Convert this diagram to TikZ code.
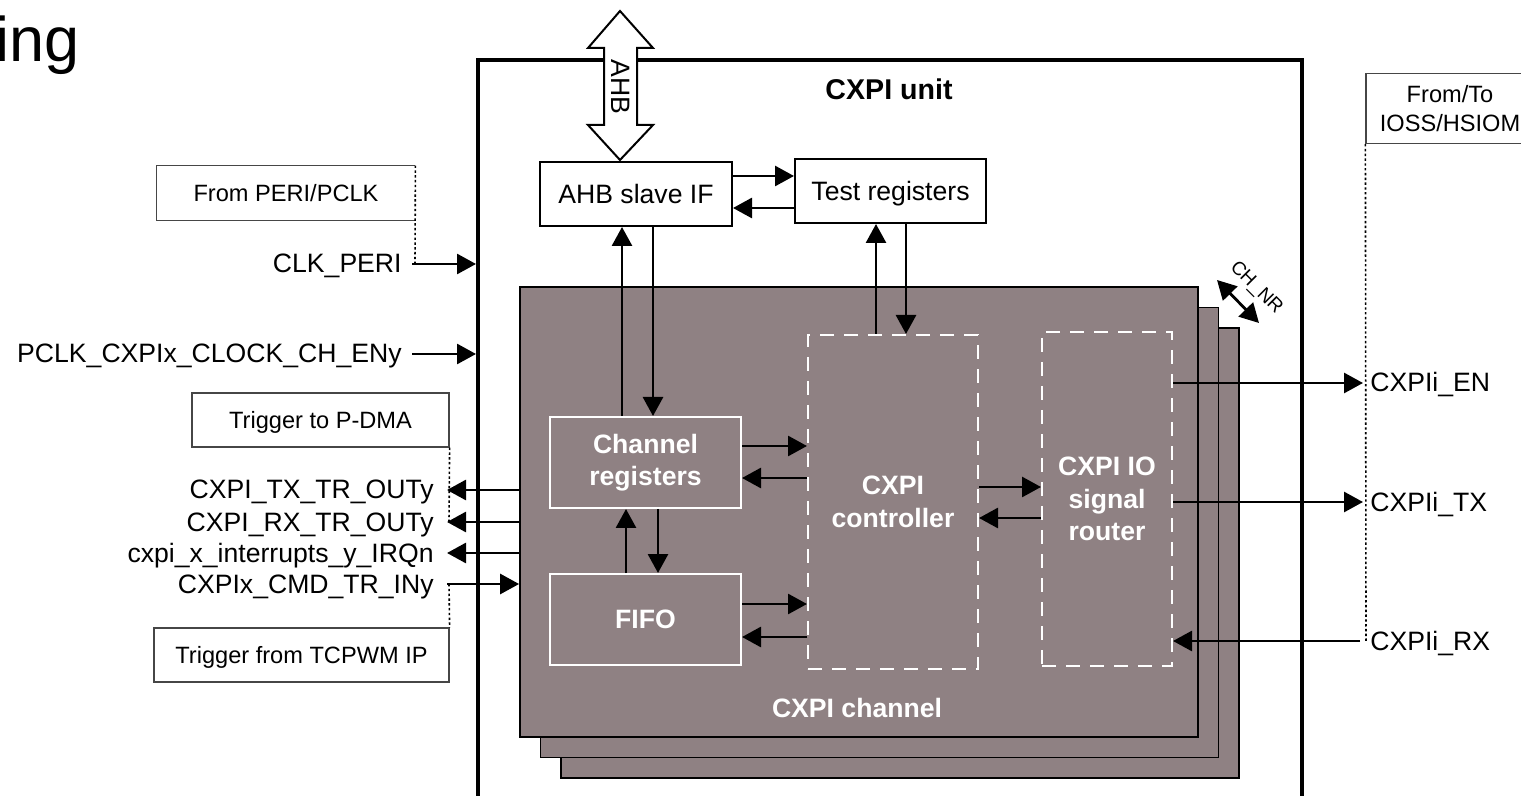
\documentclass[tikz,border=0pt]{standalone}
\usepackage{fontspec}
\setmainfont{Liberation Sans}
\usetikzlibrary{arrows.meta}
\definecolor{plate}{RGB}{143,129,131}
\definecolor{tagline}{RGB}{70,70,70}

\begin{document}
\begin{tikzpicture}[x=0.5pt,y=-0.5pt,
  sig/.style={font=\fontsize{13.3}{16}\selectfont, inner sep=0pt},
  tagtxt/.style={font=\fontsize{11.8}{14.5}\selectfont, inner sep=0pt},
  tagbox/.style={tagtxt, draw=tagline, line width=0.6pt, minimum height=27pt,
    text height=8.5pt, text depth=0pt},
  blk/.style={draw, line width=1pt, fill=white, inner sep=0pt,
    font=\fontsize{13.3}{16}\selectfont, text height=9.5pt, text depth=0pt},
  wblk/.style={draw=white, line width=1pt, inner sep=0pt, text=white,
    font=\bfseries\fontsize{13.3}{16.3}\selectfont, align=center},
  dblk/.style={wblk, dash pattern=on 7pt off 5pt},
  plt/.style={draw, line width=0.9pt, fill=plate, inner sep=0pt,
    minimum width=339pt, minimum height=225pt},
  tip/.tip={Triangle[length=9.5pt,width=10pt]},
  wire/.style={line width=1.4pt, -tip},
  tapline/.style={line width=0.8pt, dash pattern=on 1.2pt off 1.2pt}
]
\useasboundingbox (0,0) rectangle (1521,796);
\clip (0,0) rectangle (1521,796);

% title fragment
\node[anchor=base west, inner sep=0pt, font=\fontsize{31.5}{34}\selectfont] (ttl) at (-5,62) {ing};

% CXPI unit frame
\node[draw, line width=2pt, inner sep=0pt, minimum width=412pt, minimum height=380pt] (unit) at (890,440) {};
\node[inner sep=0pt, font=\bfseries\fontsize{14.3}{16}\selectfont] (unitlbl) at (889,89) {CXPI unit};

% stacked channel plates
\node[plt] (p3) at (900,553) {};
\node[plt] (p2) at (879.5,532.5) {};
\node[plt] (p1) at (859,512) {};
\node[inner sep=0pt, text=white, font=\bfseries\fontsize{13.3}{16}\selectfont] (chlbl) at (857,708) {CXPI channel};

% CH_NR marker
\coordinate (chA) at (1217,280);
\coordinate (chB) at (1259,323);
\draw[line width=1.4pt, tip-tip] (chA) -- (chB);
\node[inner sep=0pt, rotate=-45, font=\fontsize{9.5}{11}\selectfont] (chnr) at (1256,288) {CH\_NR};

% AHB bus
\draw[line width=1pt, fill=white] (620,11) -- (653,48) -- (637,48) -- (637,125) -- (653,125)
  -- (620,160) -- (588,125) -- (604,125) -- (604,48) -- (588,48) -- cycle;
\node[sig, rotate=-90] (ahblbl) at (621,87) {AHB};

% blocks
\node[blk, minimum width=96pt, minimum height=32pt] (ahb) at (636,194) {AHB slave IF};
\node[blk, minimum width=95.5pt, minimum height=32pt] (test) at (890.5,191) {Test registers};
\node[wblk, minimum width=95.5pt, minimum height=45.5pt] (chreg) at (645.5,462.5) {Channel\\registers};
\node[wblk, minimum width=95.5pt, minimum height=45.5pt] (fifo) at (645.5,619.5) {FIFO};
\node[dblk, minimum width=85pt, minimum height=167pt] (ctrl) at (893,502) {CXPI\\controller};
\node[dblk, minimum width=65pt, minimum height=167pt] (router) at (1107,499) {CXPI IO\\signal\\router};

% internal connections
\draw[wire] (ahb.east |- 0,176) -- (test.west |- 0,176);
\draw[wire] (test.west |- 0,208) -- (ahb.east |- 0,208);
\draw[wire] (chreg.north -| 622,0) -- (ahb.south -| 622,0);
\draw[wire] (ahb.south -| 653,0) -- (chreg.north -| 653,0);
\draw[wire] (ctrl.north -| 876,0) -- (test.south -| 876,0);
\draw[wire] (test.south -| 906,0) -- (ctrl.north -| 906,0);
\draw[wire] (chreg.east |- 0,446) -- (ctrl.west |- 0,446);
\draw[wire] (ctrl.west |- 0,478) -- (chreg.east |- 0,478);
\draw[wire] (fifo.east |- 0,604) -- (ctrl.west |- 0,604);
\draw[wire] (ctrl.west |- 0,637) -- (fifo.east |- 0,637);
\draw[wire] (fifo.north -| 626,0) -- (chreg.south -| 626,0);
\draw[wire] (chreg.south -| 658,0) -- (fifo.north -| 658,0);
\draw[wire] (ctrl.east |- 0,487) -- (router.west |- 0,487);
\draw[wire] (router.west |- 0,518) -- (ctrl.east |- 0,518);

% IOSS/HSIOM side
\node[tagtxt, align=center, draw=tagline, line width=0.6pt, minimum width=84pt, minimum height=35pt] (iobox) at (1450,108.5) {From/To\\IOSS/HSIOM};
\coordinate (busbot) at (1366,643);
\draw[tapline] (iobox.south west) -- (busbot);
\node[sig, anchor=base west] (en) at (1370,392) {CXPIi\_EN};
\node[sig, anchor=base west] (tx) at (1370,511) {CXPIi\_TX};
\node[sig, anchor=base west] (rx) at (1370,650) {CXPIi\_RX};
\draw[wire, shorten >=3.5pt] (router.east |- 0,383) -- (en.west |- 0,383);
\draw[wire, shorten >=3.5pt] (router.east |- 0,502) -- (tx.west |- 0,502);
\draw[wire, shorten <=5pt] (rx.west |- 0,641) -- (router.east |- 0,641);

% clock inputs
\node[tagtxt, minimum width=129pt, minimum height=27pt, text height=8.5pt, text depth=0pt] (fperi) at (286,193) {From PERI/PCLK};
\draw[draw=tagline, line width=0.6pt] (fperi.north east) -- (fperi.north west) -- (fperi.south west) -- (fperi.south east);
\coordinate (clktap) at (415,264);
\draw[tapline] (fperi.north east) -- (clktap);
\node[sig, anchor=base east] (clk) at (402,273) {CLK\_PERI};
\coordinate (clkstart) at (412,264);
\draw[wire] (clkstart) -- (unit.west |- clkstart);
\node[sig, anchor=base east] (pclk) at (402,363) {PCLK\_CXPIx\_CLOCK\_CH\_ENy};
\coordinate (pclkstart) at (412,354);
\draw[wire] (pclkstart) -- (unit.west |- pclkstart);

% trigger and interrupt lines
\node[tagbox, minimum width=128.5pt] (tdma) at (320.5,420) {Trigger to P-DMA};
\coordinate (dmatap) at (449,522);
\draw[tapline] (tdma.south east) -- (dmatap);
\node[sig, anchor=base east] (txtr) at (434,499) {CXPI\_TX\_TR\_OUTy};
\node[sig, anchor=base east] (rxtr) at (434,531) {CXPI\_RX\_TR\_OUTy};
\node[sig, anchor=base east] (irq) at (434,562) {cxpi\_x\_interrupts\_y\_IRQn};
\node[sig, anchor=base east] (cmd) at (434,593) {CXPIx\_CMD\_TR\_INy};
\draw[wire, shorten >=6.5pt] (p1.west |- 0,490) -- (txtr.east |- 0,490);
\draw[wire, shorten >=6.5pt] (p1.west |- 0,522) -- (rxtr.east |- 0,522);
\draw[wire, shorten >=6.5pt] (p1.west |- 0,553) -- (irq.east |- 0,553);
\draw[wire, shorten <=6.5pt] (cmd.east |- 0,584) -- (p1.west |- 0,584);
\node[tagbox, minimum width=147.5pt] (tcpwm) at (301.5,655) {Trigger from TCPWM IP};
\coordinate (cmdtap) at (449,584);
\draw[tapline] (cmdtap) -- (tcpwm.north east);
\end{tikzpicture}
\end{document}
